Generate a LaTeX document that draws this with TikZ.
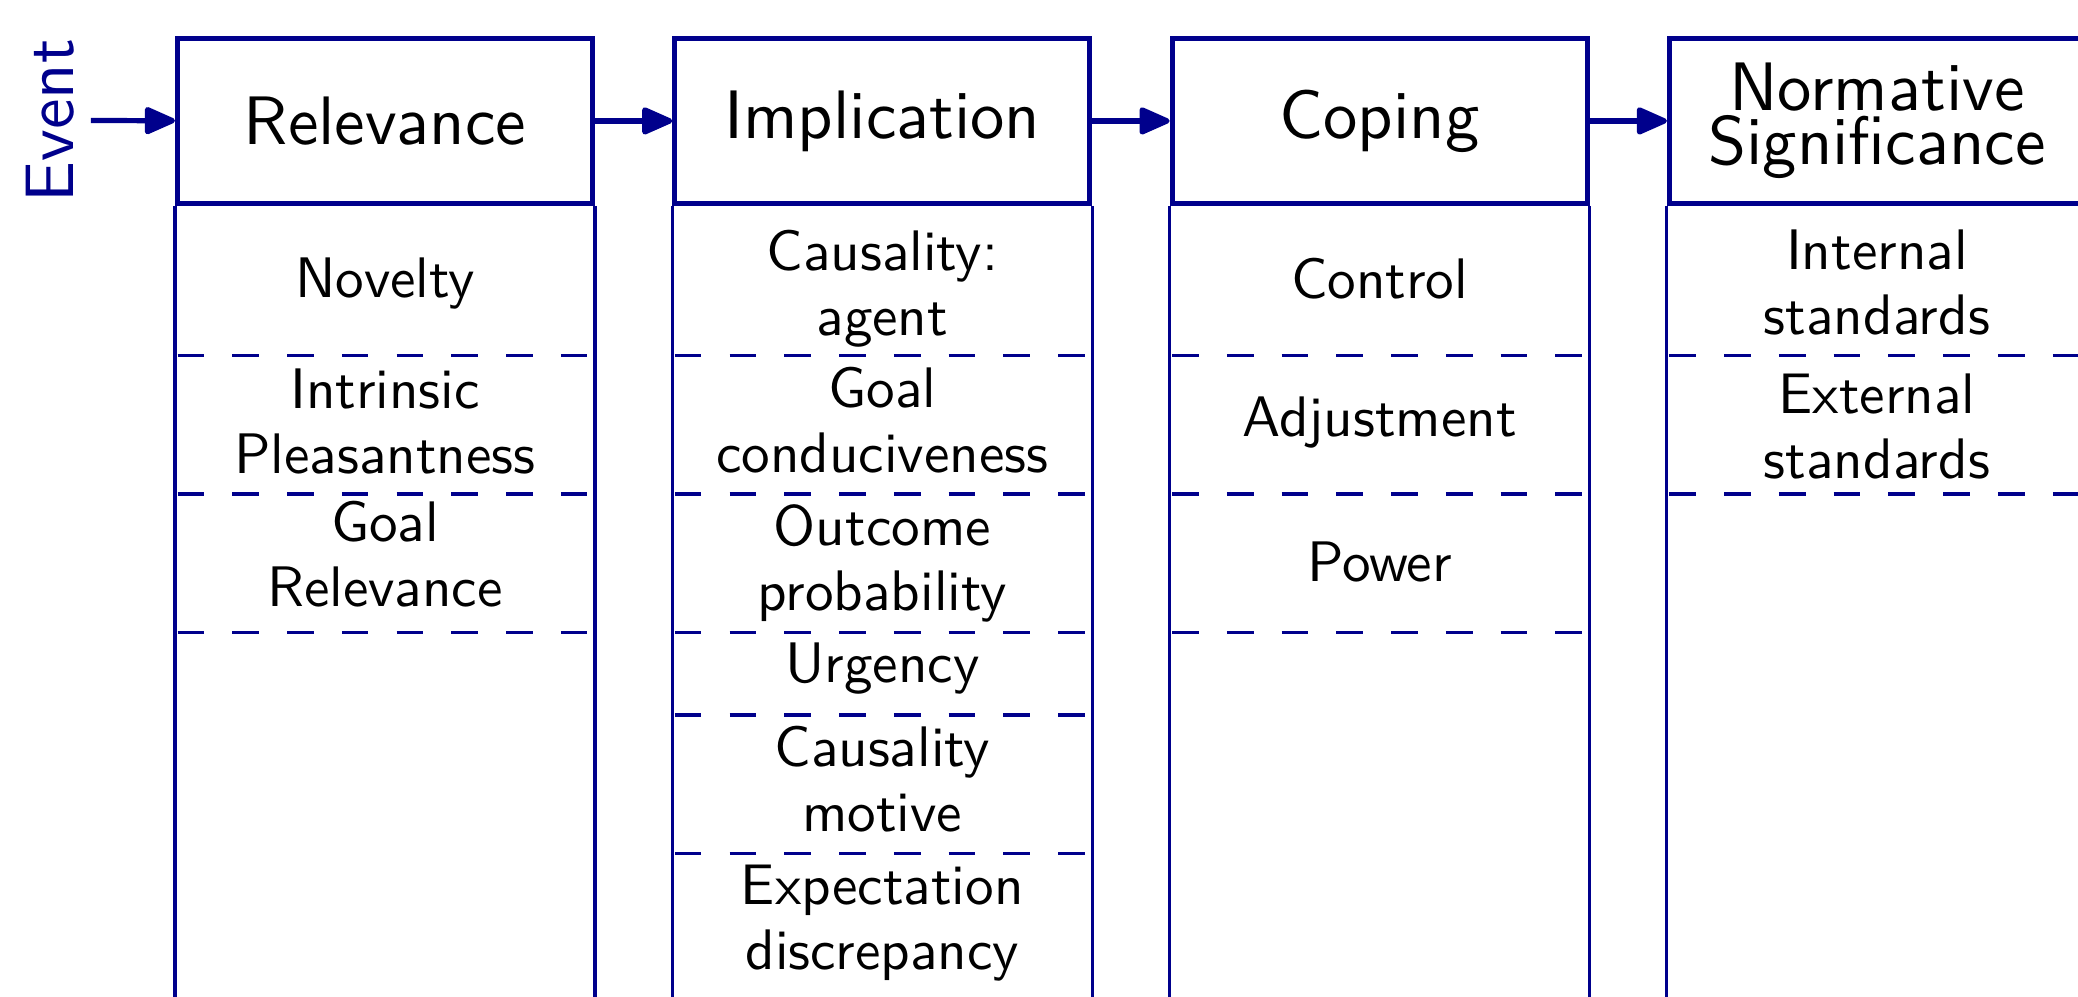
\documentclass[tikz,border=0pt]{standalone}
\usepackage{fontspec}
\setsansfont{lmsans10-regular}[Extension=.otf]
\usetikzlibrary{arrows.meta}
\definecolor{navy}{RGB}{0,0,140}
\begin{document}
\begin{tikzpicture}[x=0.21pt,y=-0.21pt,
  stage/.style={draw=navy, line width=1.05pt, minimum width=87.15pt, minimum height=34.65pt,
    inner sep=0pt, font=\sffamily\fontsize{14.4}{11.34}\selectfont, align=center},
  item/.style={font=\sffamily\fontsize{12}{13.65}\selectfont, align=center, inner sep=0pt},
  sep/.style={draw=navy, line width=0.65pt, dash pattern=on 5.6pt off 5.9pt},
  rail/.style={draw=navy, line width=0.65pt},
  arr/.style={draw=navy, line width=1.1pt, -{Triangle[length=7.2pt,width=6pt,round]}},
  evt/.style={text=navy, font=\sffamily\fontsize{14.4}{17}\selectfont, rotate=90}]
\useasboundingbox (0,0) rectangle (2078,996);
\clip (0,0) rectangle (2078,996);

% stage headers
\node[stage] (rel) at (385,120.9) {Relevance};
\node[stage] (imp) at (882.3,120.9) {Implication};
\node[stage] (cop) at (1379.6,120.9) {Coping};
\node[stage] (nor) at (1876.9,120.9) {Normative\\Significance};
\node[evt] (event) at (50,120.5) {Event};

% rails
\foreach \n in {rel,imp,cop,nor}{
  \draw[rail] (\n.south west) -- ++(0,820);
  \draw[rail] (\n.south east) -- ++(0,820);
}

% separators
\foreach \y in {355.8,494,632.3}{
  \draw[sep] (177.5,\y) -- (592.5,\y);
  \draw[sep] (1172.1,\y) -- (1587.1,\y);
}
\foreach \y in {355.8,494,632.3,715,853.3}{
  \draw[sep] (674.8,\y) -- (1089.8,\y);
}
\foreach \y in {355.8,494}{
  \draw[sep] (1669.4,\y) -- (2084.4,\y);
}

% arrows
\draw[arr] (event) -- (rel);
\draw[arr] (rel) -- (imp);
\draw[arr] (imp) -- (cop);
\draw[arr] (cop) -- (nor);

% Relevance items
\node[item] (nov) at (385,283.6) {Novelty};
\node[item] (ip) at (385,421.5) {Intrinsic\\Pleasantness};
\node[item] (gr) at (385,554) {Goal\\Relevance};

% Implication items
\node[item] (ca) at (882.3,288.6) {Causality:\\agent};
\node[item] (gc) at (882.3,420.5) {Goal\\conduciveness};
\node[item] (op) at (882.3,563) {Outcome\\probability};
\node[item] (urg) at (882.3,669) {Urgency};
\node[item] (cm) at (882.3,778.8) {Causality\\motive};
\node[item] (ed) at (882.3,922.7) {Expectation\\discrepancy};

% Coping items
\node[item] (ctl) at (1379.6,278.5) {Control};
\node[item] (adj) at (1379.6,422.3) {Adjustment};
\node[item] (pow) at (1379.6,561.8) {Power};

% Normative items
\node[item] (is) at (1876.9,282.6) {Internal\\standards};
\node[item] (es) at (1876.9,426.8) {External\\standards};
\end{tikzpicture}
\end{document}
